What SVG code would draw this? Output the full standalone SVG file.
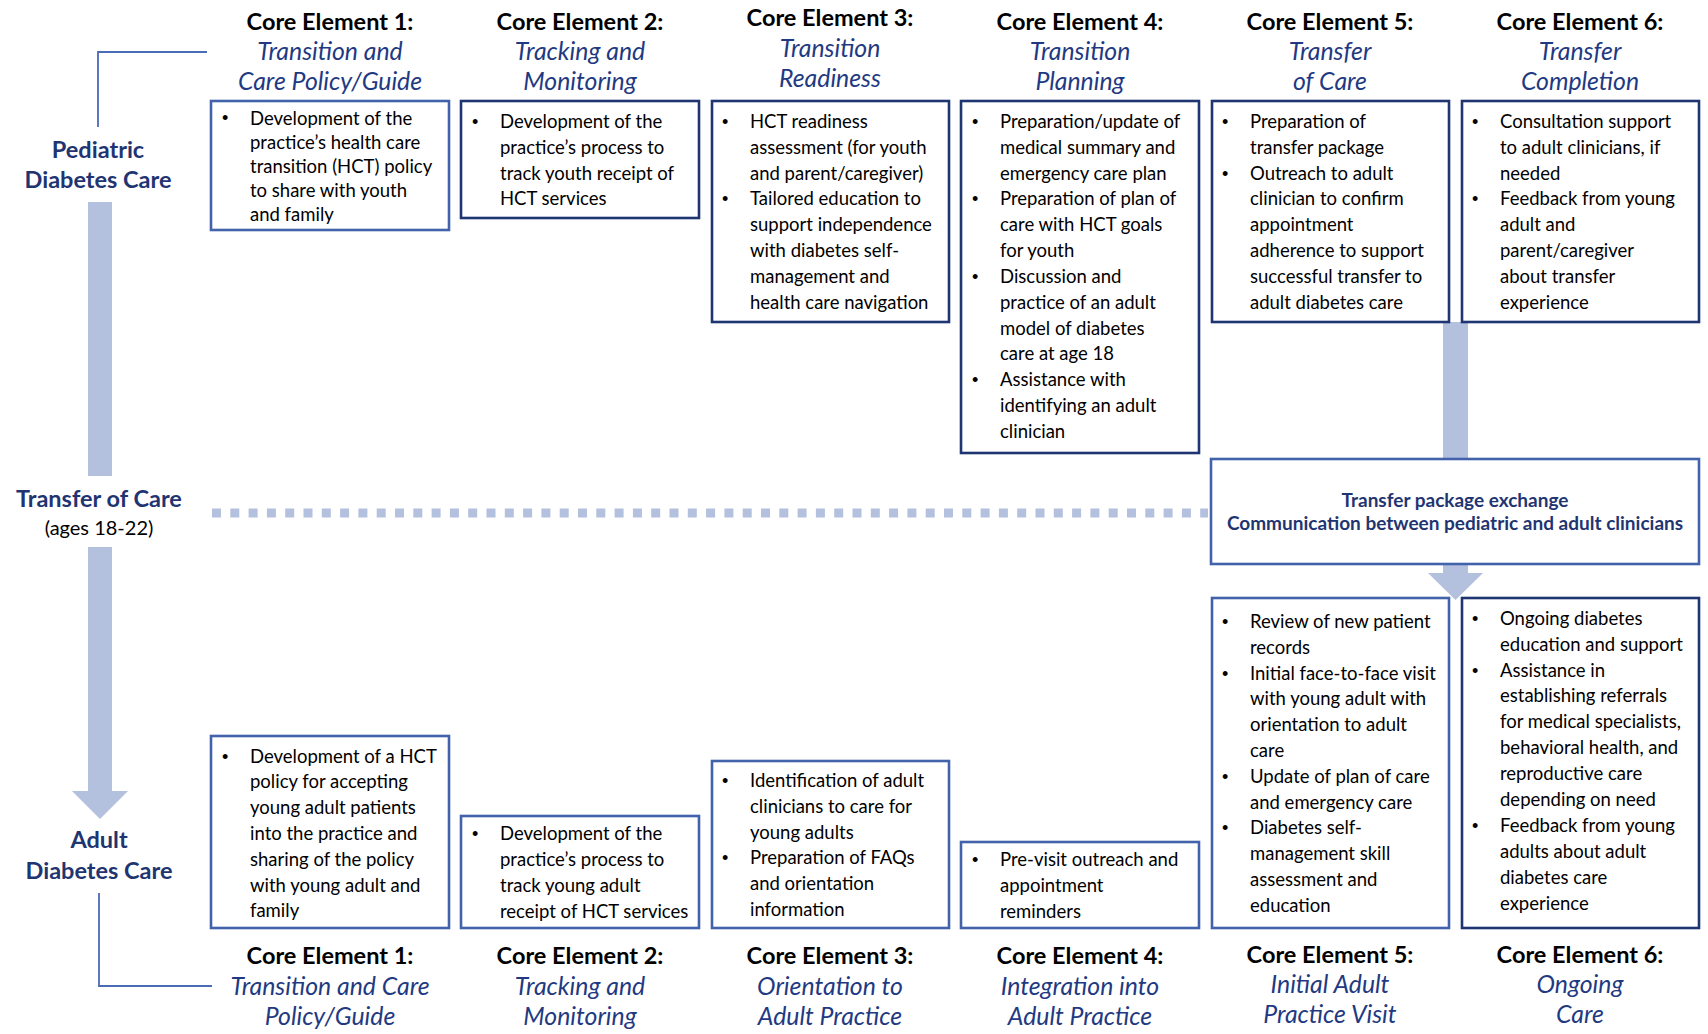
<svg xmlns="http://www.w3.org/2000/svg" width="1708" height="1034" viewBox="0 0 1708 1034">
<style>
.bx{fill:#fff;stroke-width:2.6}
.dk{stroke:#1F3572}
.md{stroke:#4262AA}
.t{font-family:Lato,"Liberation Sans",sans-serif;font-size:18.5px;fill:#000}
.bu{font-family:"Liberation Sans",sans-serif;font-size:18px;fill:#000}
.hd{font-family:Lato,"Liberation Sans",sans-serif;font-size:23.5px;font-weight:bold;fill:#000;text-anchor:middle}
.it{font-family:Lato,"Liberation Sans",sans-serif;font-size:24.8px;font-style:italic;fill:#1F3A82;text-anchor:middle}
.lb{font-family:Lato,"Liberation Sans",sans-serif;font-size:23.5px;font-weight:bold;fill:#1F3572;text-anchor:middle}
.tb{font-family:Lato,"Liberation Sans",sans-serif;font-size:19px;font-weight:bold;fill:#1F3572;text-anchor:middle}
.bar{fill:#B3C0DE}
.br{fill:none;stroke:#4A6BB5;stroke-width:1.8}
</style>

<g id="connectors">
  <polyline class="br" points="207,52 98,52 98,127"/>
  <polyline class="br" points="99,893 99,986 212,986"/>
  <rect class="bar" x="88" y="202" width="24" height="274"/>
  <rect class="bar" x="88" y="547" width="24" height="244"/>
  <polygon class="bar" points="72,791 128,791 100,819"/>
  <line x1="212" y1="513" x2="1208" y2="513" stroke="#B3C0DE" stroke-width="9" stroke-dasharray="9 9.3"/>
  <rect class="bar" x="1443" y="322" width="25" height="138"/>
  <rect class="bar" x="1443" y="563" width="25" height="11"/>
  <polygon class="bar" points="1428,573 1483,573 1455.5,600"/>
</g>

<g id="label-pediatric">
  <text class="lb" x="98" y="158">Pediatric</text>
  <text class="lb" x="98" y="188">Diabetes Care</text>
</g>
<g id="label-transfer">
  <text class="lb" x="99" y="507">Transfer of Care</text>
  <text x="99" y="535" style="font-family:Lato,'Liberation Sans',sans-serif;font-size:20px;fill:#000;text-anchor:middle">(ages 18-22)</text>
</g>
<g id="label-adult">
  <text class="lb" x="99" y="848">Adult</text>
  <text class="lb" x="99" y="879">Diabetes Care</text>
</g>

<!-- Top headers -->
<g id="top-head-1"><text class="hd" x="330" y="30">Core Element 1:</text><text class="it" x="330" y="60">Transition and</text><text class="it" x="330" y="90">Care Policy/Guide</text></g>
<g id="top-head-2"><text class="hd" x="580" y="30">Core Element 2:</text><text class="it" x="580" y="60">Tracking and</text><text class="it" x="580" y="90">Monitoring</text></g>
<g id="top-head-3"><text class="hd" x="830" y="26">Core Element 3:</text><text class="it" x="830" y="57">Transition</text><text class="it" x="830" y="87">Readiness</text></g>
<g id="top-head-4"><text class="hd" x="1080" y="30">Core Element 4:</text><text class="it" x="1080" y="60">Transition</text><text class="it" x="1080" y="90">Planning</text></g>
<g id="top-head-5"><text class="hd" x="1330" y="30">Core Element 5:</text><text class="it" x="1330" y="60">Transfer</text><text class="it" x="1330" y="90">of Care</text></g>
<g id="top-head-6"><text class="hd" x="1580" y="30">Core Element 6:</text><text class="it" x="1580" y="60">Transfer</text><text class="it" x="1580" y="90">Completion</text></g>

<!-- Top boxes -->
<g id="top-box-1">
  <rect class="bx md" x="211" y="101" width="238" height="129"/>
  <text class="bu" x="222" y="124">•</text>
  <text class="t" x="250" y="124.5">Development of the</text>
  <text class="t" x="250" y="148.5">practice’s health care</text>
  <text class="t" x="250" y="172.5">transition (HCT) policy</text>
  <text class="t" x="250" y="196.5">to share with youth</text>
  <text class="t" x="250" y="220.5">and family</text>
</g>
<g id="top-box-2">
  <rect class="bx dk" x="461" y="101" width="238" height="117"/>
  <text class="bu" x="472" y="128">•</text>
  <text class="t" x="500" y="128">Development of the</text>
  <text class="t" x="500" y="154">practice’s process to</text>
  <text class="t" x="500" y="180">track youth receipt of</text>
  <text class="t" x="500" y="205">HCT services</text>
</g>
<g id="top-box-3">
  <rect class="bx dk" x="712" y="101" width="237" height="221"/>
  <text class="bu" x="722" y="128">•</text>
  <text class="t" x="750" y="128">HCT readiness</text>
  <text class="t" x="750" y="154">assessment (for youth</text>
  <text class="t" x="750" y="180">and parent/caregiver)</text>
  <text class="bu" x="722" y="205">•</text>
  <text class="t" x="750" y="205">Tailored education to</text>
  <text class="t" x="750" y="231">support independence</text>
  <text class="t" x="750" y="257">with diabetes self-</text>
  <text class="t" x="750" y="283">management and</text>
  <text class="t" x="750" y="309">health care navigation</text>
</g>
<g id="top-box-4">
  <rect class="bx dk" x="961" y="101" width="238" height="352"/>
  <text class="bu" x="972" y="128">•</text>
  <text class="t" x="1000" y="128">Preparation/update of</text>
  <text class="t" x="1000" y="154">medical summary and</text>
  <text class="t" x="1000" y="180">emergency care plan</text>
  <text class="bu" x="972" y="205">•</text>
  <text class="t" x="1000" y="205">Preparation of plan of</text>
  <text class="t" x="1000" y="231">care with HCT goals</text>
  <text class="t" x="1000" y="257">for youth</text>
  <text class="bu" x="972" y="283">•</text>
  <text class="t" x="1000" y="283">Discussion and</text>
  <text class="t" x="1000" y="309">practice of an adult</text>
  <text class="t" x="1000" y="335">model of diabetes</text>
  <text class="t" x="1000" y="360">care at age 18</text>
  <text class="bu" x="972" y="386">•</text>
  <text class="t" x="1000" y="386">Assistance with</text>
  <text class="t" x="1000" y="412">identifying an adult</text>
  <text class="t" x="1000" y="438">clinician</text>
</g>
<g id="top-box-5">
  <rect class="bx dk" x="1212" y="101" width="237" height="221"/>
  <text class="bu" x="1222" y="128">•</text>
  <text class="t" x="1250" y="128">Preparation of</text>
  <text class="t" x="1250" y="154">transfer package</text>
  <text class="bu" x="1222" y="180">•</text>
  <text class="t" x="1250" y="180">Outreach to adult</text>
  <text class="t" x="1250" y="205">clinician to confirm</text>
  <text class="t" x="1250" y="231">appointment</text>
  <text class="t" x="1250" y="257">adherence to support</text>
  <text class="t" x="1250" y="283">successful transfer to</text>
  <text class="t" x="1250" y="309">adult diabetes care</text>
</g>
<g id="top-box-6">
  <rect class="bx dk" x="1462" y="101" width="237" height="221"/>
  <text class="bu" x="1472" y="128">•</text>
  <text class="t" x="1500" y="128">Consultation support</text>
  <text class="t" x="1500" y="154">to adult clinicians, if</text>
  <text class="t" x="1500" y="180">needed</text>
  <text class="bu" x="1472" y="205">•</text>
  <text class="t" x="1500" y="205">Feedback from young</text>
  <text class="t" x="1500" y="231">adult and</text>
  <text class="t" x="1500" y="257">parent/caregiver</text>
  <text class="t" x="1500" y="283">about transfer</text>
  <text class="t" x="1500" y="309">experience</text>
</g>

<!-- Transfer box -->
<g id="transfer-box">
  <rect class="bx md" x="1211" y="459" width="488" height="105"/>
  <text class="tb" x="1455" y="507">Transfer package exchange</text>
  <text class="tb" x="1455" y="530">Communication between pediatric and adult clinicians</text>
</g>

<!-- Bottom boxes -->
<g id="bottom-box-1">
  <rect class="bx md" x="211" y="736" width="238" height="192"/>
  <text class="bu" x="222" y="763">•</text>
  <text class="t" x="250" y="763">Development of a HCT</text>
  <text class="t" x="250" y="788">policy for accepting</text>
  <text class="t" x="250" y="814">young adult patients</text>
  <text class="t" x="250" y="840">into the practice and</text>
  <text class="t" x="250" y="866">sharing of the policy</text>
  <text class="t" x="250" y="892">with young adult and</text>
  <text class="t" x="250" y="917">family</text>
</g>
<g id="bottom-box-2">
  <rect class="bx md" x="461" y="816" width="238" height="112"/>
  <text class="bu" x="472" y="840">•</text>
  <text class="t" x="500" y="840">Development of the</text>
  <text class="t" x="500" y="866">practice’s process to</text>
  <text class="t" x="500" y="892">track young adult</text>
  <text class="t" x="500" y="918">receipt of HCT services</text>
</g>
<g id="bottom-box-3">
  <rect class="bx md" x="712" y="761" width="237" height="167"/>
  <text class="bu" x="722" y="787">•</text>
  <text class="t" x="750" y="787">Identification of adult</text>
  <text class="t" x="750" y="813">clinicians to care for</text>
  <text class="t" x="750" y="839">young adults</text>
  <text class="bu" x="722" y="864">•</text>
  <text class="t" x="750" y="864">Preparation of FAQs</text>
  <text class="t" x="750" y="890">and orientation</text>
  <text class="t" x="750" y="916">information</text>
</g>
<g id="bottom-box-4">
  <rect class="bx md" x="961" y="842" width="238" height="86"/>
  <text class="bu" x="972" y="866">•</text>
  <text class="t" x="1000" y="866">Pre-visit outreach and</text>
  <text class="t" x="1000" y="892">appointment</text>
  <text class="t" x="1000" y="918">reminders</text>
</g>
<g id="bottom-box-5">
  <rect class="bx md" x="1212" y="598" width="237" height="330"/>
  <text class="bu" x="1222" y="628">•</text>
  <text class="t" x="1250" y="628">Review of new patient</text>
  <text class="t" x="1250" y="654">records</text>
  <text class="bu" x="1222" y="680">•</text>
  <text class="t" x="1250" y="680">Initial face-to-face visit</text>
  <text class="t" x="1250" y="705">with young adult with</text>
  <text class="t" x="1250" y="731">orientation to adult</text>
  <text class="t" x="1250" y="757">care</text>
  <text class="bu" x="1222" y="783">•</text>
  <text class="t" x="1250" y="783">Update of plan of care</text>
  <text class="t" x="1250" y="809">and emergency care</text>
  <text class="bu" x="1222" y="834">•</text>
  <text class="t" x="1250" y="834">Diabetes self-</text>
  <text class="t" x="1250" y="860">management skill</text>
  <text class="t" x="1250" y="886">assessment and</text>
  <text class="t" x="1250" y="912">education</text>
</g>
<g id="bottom-box-6">
  <rect class="bx dk" x="1462" y="598" width="237" height="330"/>
  <text class="bu" x="1472" y="625">•</text>
  <text class="t" x="1500" y="625">Ongoing diabetes</text>
  <text class="t" x="1500" y="651">education and support</text>
  <text class="bu" x="1472" y="677">•</text>
  <text class="t" x="1500" y="677">Assistance in</text>
  <text class="t" x="1500" y="702">establishing referrals</text>
  <text class="t" x="1500" y="728">for medical specialists,</text>
  <text class="t" x="1500" y="754">behavioral health, and</text>
  <text class="t" x="1500" y="780">reproductive care</text>
  <text class="t" x="1500" y="806">depending on need</text>
  <text class="bu" x="1472" y="832">•</text>
  <text class="t" x="1500" y="832">Feedback from young</text>
  <text class="t" x="1500" y="858">adults about adult</text>
  <text class="t" x="1500" y="884">diabetes care</text>
  <text class="t" x="1500" y="910">experience</text>
</g>

<!-- Bottom headers -->
<g id="bottom-head-1"><text class="hd" x="330" y="964">Core Element 1:</text><text class="it" x="330" y="995">Transition and Care</text><text class="it" x="330" y="1025">Policy/Guide</text></g>
<g id="bottom-head-2"><text class="hd" x="580" y="964">Core Element 2:</text><text class="it" x="580" y="995">Tracking and</text><text class="it" x="580" y="1025">Monitoring</text></g>
<g id="bottom-head-3"><text class="hd" x="830" y="964">Core Element 3:</text><text class="it" x="830" y="995">Orientation to</text><text class="it" x="830" y="1025">Adult Practice</text></g>
<g id="bottom-head-4"><text class="hd" x="1080" y="964">Core Element 4:</text><text class="it" x="1080" y="995">Integration into</text><text class="it" x="1080" y="1025">Adult Practice</text></g>
<g id="bottom-head-5"><text class="hd" x="1330" y="963">Core Element 5:</text><text class="it" x="1330" y="993">Initial Adult</text><text class="it" x="1330" y="1023">Practice Visit</text></g>
<g id="bottom-head-6"><text class="hd" x="1580" y="963">Core Element 6:</text><text class="it" x="1580" y="993">Ongoing</text><text class="it" x="1580" y="1023">Care</text></g>
</svg>
